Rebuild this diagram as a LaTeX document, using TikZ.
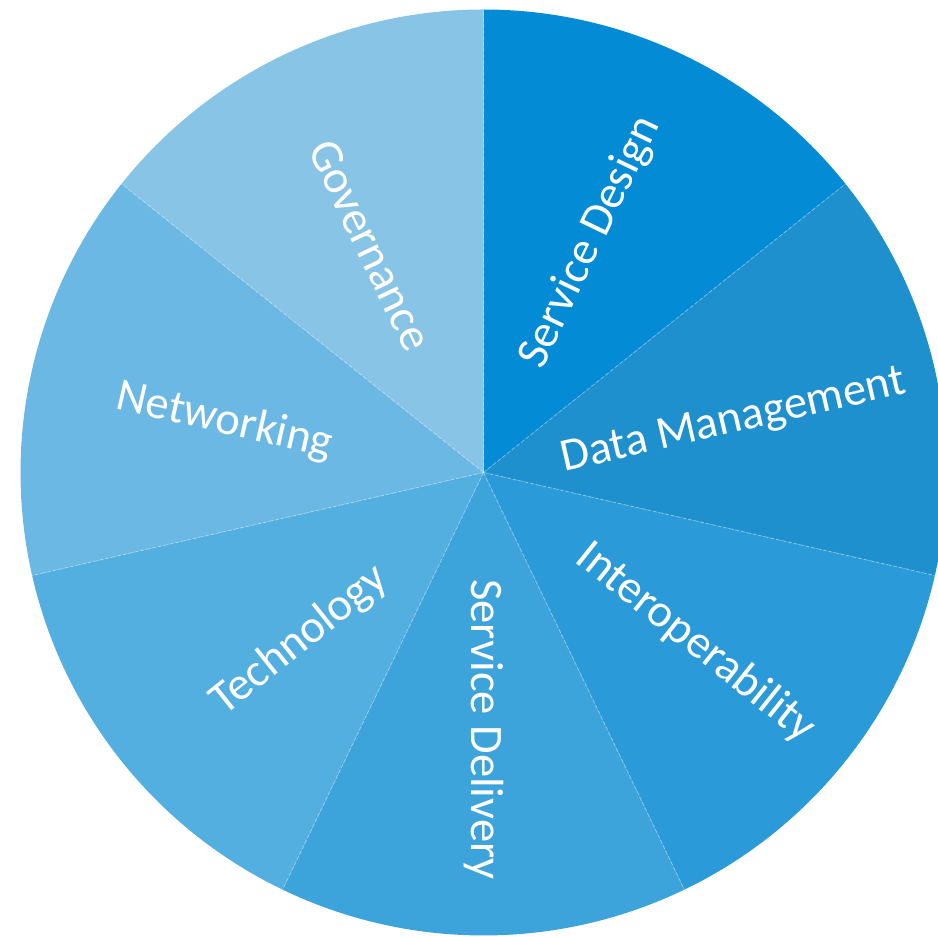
\documentclass[tikz,border=0pt]{standalone}
\usepackage{fontspec}
\setmainfont{Carlito}
\definecolor{cSDes}{RGB}{3,139,213}
\definecolor{cData}{RGB}{30,144,206}
\definecolor{cInter}{RGB}{42,155,216}
\definecolor{cSDel}{RGB}{61,164,219}
\definecolor{cTech}{RGB}{82,175,224}
\definecolor{cNet}{RGB}{106,184,227}
\definecolor{cGov}{RGB}{136,196,229}
\tikzset{
  lbl/.style={text=white, inner sep=0pt, font=\fontsize{46.5}{52}\selectfont},
  sepline/.style={draw=white, draw opacity=0.3, line width=1pt, dash pattern=on 4pt off 2pt}
}
\begin{document}
\begin{tikzpicture}[x=1pt,y=1pt]
\useasboundingbox (0,0) rectangle (938,937);
\coordinate (O) at (483.5,464.5);
\def\R{463}
% slices
\foreach \s/\c in {38.571/cSDes, -12.857/cData, -64.286/cInter, -115.714/cSDel, -167.143/cTech, 141.429/cNet, 90/cGov}{
  \fill[\c] (O) -- ++(\s:\R) arc[start angle=\s, end angle=\s+51.4286, radius=\R] -- cycle;
}
% separators
\foreach \s [count=\i] in {90, 38.571, -12.857, -64.286, -115.714, -167.143, 141.429}{
  \coordinate (b\i) at ([shift={(\s:\R)}]O);
  \draw[sepline] (O) -- (b\i);
}
% labels
\node[lbl, rotate=64.286] (sdesign) at ([shift={(65.1:254)}]O) {Service Design};
\node[lbl, rotate=12.857] (datam) at ([shift={(11.5:255)}]O) {Data Management};
\node[lbl, rotate=-38.571] (interop) at ([shift={(-38.7:272)}]O) {Interoperability};
\node[lbl, rotate=-90] (sdeliv) at ([shift={(-90:257)}]O) {Service Delivery};
\node[lbl, rotate=38.571] (tech) at ([shift={(-137.6:249)}]O) {Technology};
\node[lbl, rotate=-12.857] (netw) at ([shift={(168.8:264)}]O) {Networking};
\node[lbl, rotate=-64.286] (gov) at ([shift={(116.5:254)}]O) {Governance};
\end{tikzpicture}
\end{document}
